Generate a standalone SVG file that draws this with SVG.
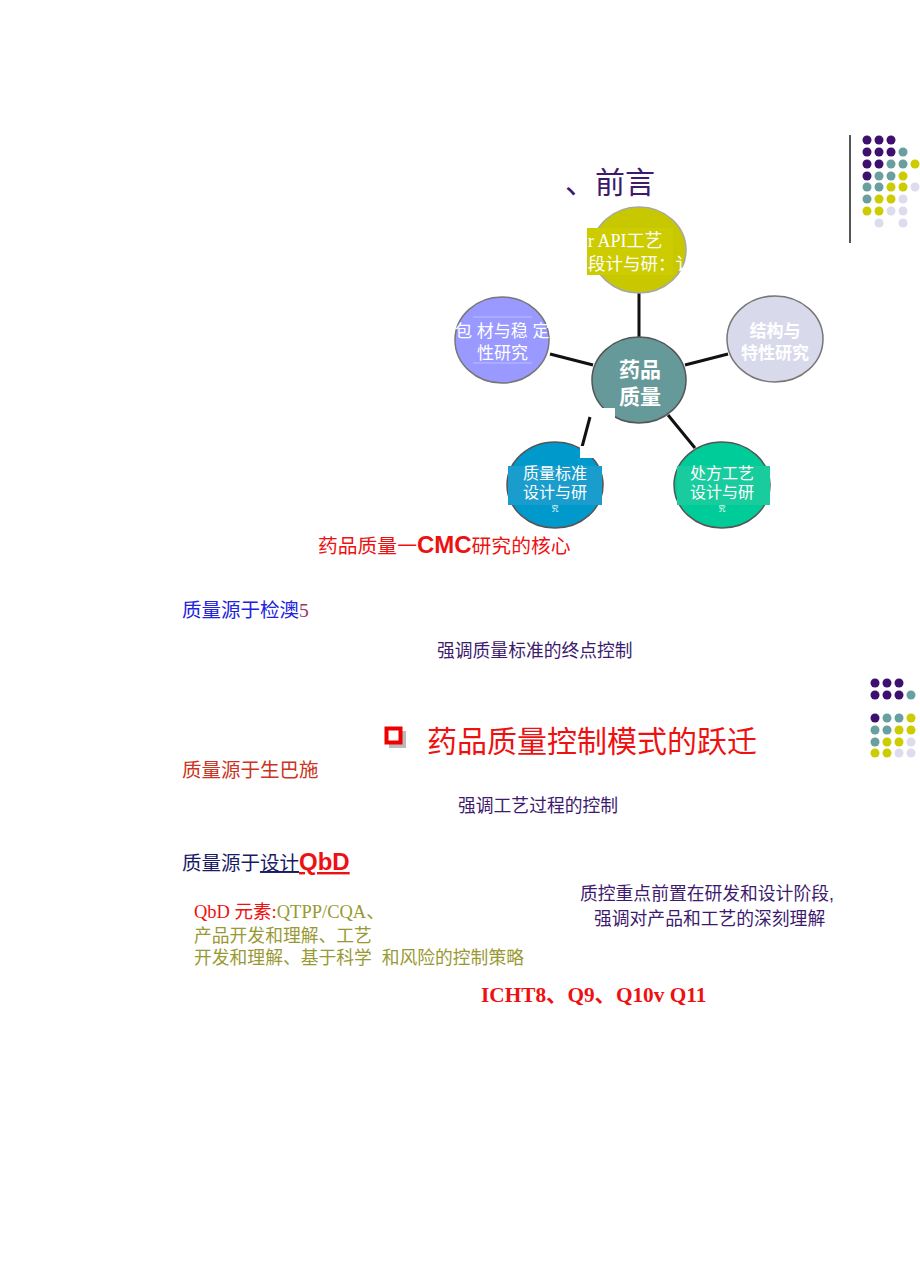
<svg xmlns="http://www.w3.org/2000/svg" width="920" height="1284" viewBox="0 0 920 1284">
<style>
.s{font-family:"Liberation Sans","Noto Sans CJK SC",sans-serif}
.r{font-family:"Liberation Serif","Noto Sans CJK SC",serif}
.w{fill:#ffffff}
.p{fill:#3d1a6e}
.dP{fill:#3d0f6e}.dT{fill:#6a9f9f}.dY{fill:#cccc00}.dL{fill:#dcdcee}
.ln{stroke:#111;stroke-width:3;fill:none}
</style>
<rect width="920" height="1284" fill="#ffffff"/>

<g id="deco-top">
<line x1="850" y1="135" x2="850" y2="243" stroke="#555" stroke-width="2"/>
<g>
<circle class="dP" cx="867" cy="140" r="4.5"/><circle class="dP" cx="879" cy="140" r="4.5"/><circle class="dP" cx="891" cy="140" r="4.5"/>
<circle class="dP" cx="867" cy="152" r="4.5"/><circle class="dP" cx="879" cy="152" r="4.5"/><circle class="dP" cx="891" cy="152" r="4.5"/><circle class="dT" cx="903" cy="152" r="4.5"/>
<circle class="dP" cx="867" cy="164" r="4.5"/><circle class="dP" cx="879" cy="164" r="4.5"/><circle class="dT" cx="891" cy="164" r="4.5"/><circle class="dT" cx="903" cy="164" r="4.5"/><circle class="dY" cx="915" cy="164" r="4.5"/>
<circle class="dP" cx="867" cy="176" r="4.5"/><circle class="dT" cx="879" cy="176" r="4.5"/><circle class="dT" cx="891" cy="176" r="4.5"/><circle class="dY" cx="903" cy="176" r="4.5"/>
<circle class="dT" cx="867" cy="187" r="4.5"/><circle class="dT" cx="879" cy="187" r="4.5"/><circle class="dY" cx="891" cy="187" r="4.5"/><circle class="dY" cx="903" cy="187" r="4.5"/><circle class="dL" cx="915" cy="187" r="4.5"/>
<circle class="dT" cx="867" cy="199" r="4.5"/><circle class="dY" cx="879" cy="199" r="4.5"/><circle class="dY" cx="891" cy="199" r="4.5"/><circle class="dL" cx="903" cy="199" r="4.5"/>
<circle class="dY" cx="867" cy="211" r="4.5"/><circle class="dY" cx="879" cy="211" r="4.5"/><circle class="dL" cx="891" cy="211" r="4.5"/><circle class="dL" cx="903" cy="211" r="4.5"/>
<circle class="dL" cx="879" cy="223" r="4.5"/><circle class="dL" cx="903" cy="223" r="4.5"/>
</g>
</g>

<g id="deco-bottom">
<circle class="dP" cx="875" cy="683" r="4.5"/><circle class="dP" cx="887" cy="683" r="4.5"/><circle class="dP" cx="899" cy="683" r="4.5"/>
<circle class="dP" cx="875" cy="695" r="4.5"/><circle class="dP" cx="887" cy="695" r="4.5"/><circle class="dP" cx="899" cy="695" r="4.5"/><circle class="dT" cx="911" cy="695" r="4.5"/>
<circle class="dP" cx="875" cy="718" r="4.5"/><circle class="dT" cx="887" cy="718" r="4.5"/><circle class="dT" cx="899" cy="718" r="4.5"/><circle class="dY" cx="911" cy="718" r="4.5"/>
<circle class="dT" cx="875" cy="730" r="4.5"/><circle class="dT" cx="887" cy="730" r="4.5"/><circle class="dY" cx="899" cy="730" r="4.5"/><circle class="dY" cx="911" cy="730" r="4.5"/>
<circle class="dT" cx="875" cy="742" r="4.5"/><circle class="dY" cx="887" cy="742" r="4.5"/><circle class="dY" cx="899" cy="742" r="4.5"/><circle class="dL" cx="911" cy="742" r="4.5"/>
<circle class="dY" cx="875" cy="753" r="4.5"/><circle class="dY" cx="887" cy="753" r="4.5"/><circle class="dL" cx="899" cy="753" r="4.5"/><circle class="dL" cx="911" cy="753" r="4.5"/>
</g>

<g id="title">
<text class="s p" x="565" y="193" font-size="30">、前言</text>
</g>

<g id="connectors">
<line class="ln" x1="639" y1="293" x2="639" y2="337"/>
<line class="ln" x1="550" y1="354" x2="593" y2="365"/>
<line class="ln" x1="685" y1="365" x2="728" y2="354"/>
<line class="ln" x1="590" y1="417" x2="582" y2="447"/>
<line class="ln" x1="668" y1="415" x2="695" y2="448"/>
</g>

<g id="node-api">
<ellipse cx="639" cy="250" rx="47" ry="43" fill="#c8c800" stroke="#a8a8a0" stroke-width="1.5"/>
<rect x="587" y="228" width="86" height="47" fill="#cccc00"/>
<text class="r w" x="588" y="247" font-size="18">r API工艺</text>
<text class="r w" x="588" y="270" font-size="17.5">段计与研：讠</text>
</g>

<g id="node-pack">
<ellipse cx="502" cy="340" rx="47" ry="43" fill="#9999ff" stroke="#777" stroke-width="1.5"/>
<line x1="473" y1="317" x2="532" y2="317" stroke="#c8c8ff" stroke-width="0.8"/>
<line x1="473" y1="363" x2="532" y2="363" stroke="#c8c8ff" stroke-width="0.8"/>
<text class="s w" x="455" y="337" font-size="17">包 材与稳 定</text>
<text class="s w" x="477" y="359" font-size="17">性研究</text>
</g>

<g id="node-struct">
<ellipse cx="775" cy="339" rx="48" ry="43" fill="#d9d9ec" stroke="#777" stroke-width="1.5"/>
<text class="s w" x="775" y="337" font-size="17" font-weight="bold" text-anchor="middle">结构与</text>
<text class="s w" x="775" y="359" font-size="17" font-weight="bold" text-anchor="middle">特性研究</text>
</g>

<g id="node-center">
<ellipse cx="639" cy="380" rx="47" ry="43" fill="#669999" stroke="#555" stroke-width="1.5"/>
<rect x="592" y="408" width="23" height="18" fill="#ffffff"/>
<text class="s w" x="640" y="377" font-size="21" font-weight="bold" text-anchor="middle">药品</text>
<text class="s w" x="640" y="404" font-size="21" font-weight="bold" text-anchor="middle">质量</text>
</g>

<g id="node-spec">
<ellipse cx="555" cy="485" rx="48" ry="43" fill="#0099cc" stroke="#555" stroke-width="1.5"/>
<rect x="580" y="446" width="25" height="12" fill="#ffffff"/>
<rect x="508" y="466" width="94" height="39" fill="#1a9dcc"/>
<text class="s w" x="555" y="479" font-size="16" text-anchor="middle">质量标准</text>
<text class="s w" x="555" y="498" font-size="16" text-anchor="middle">设计与研</text>
<text class="s w" x="555" y="511" font-size="7" text-anchor="middle">究</text>
</g>

<g id="node-form">
<ellipse cx="722" cy="485" rx="48" ry="43" fill="#00cc99" stroke="#555" stroke-width="1.5"/>
<rect x="677" y="466" width="93" height="39" fill="#19cc9d"/>
<text class="s w" x="722" y="479" font-size="16" text-anchor="middle">处方工艺</text>
<text class="s w" x="722" y="498" font-size="16" text-anchor="middle">设计与研</text>
<text class="s w" x="722" y="511" font-size="7" text-anchor="middle">究</text>
</g>

<g id="caption">
<text class="s" x="318" y="553" font-size="19.8" fill="#ee1111">药品质量一<tspan font-size="24" font-weight="bold">CMC</tspan>研究的核心</text>
</g>

<g id="text-section">
<text class="s" x="182" y="617" font-size="19.5" fill="#2222dd">质量源于检澳<tspan class="r" fill="#993366">5</tspan></text>
<text class="s p" x="437" y="657" font-size="17.8">强调质量标准的终点控制</text>

<rect x="389" y="731" width="17" height="17" fill="#bbbbbb"/>
<rect x="386.5" y="728.5" width="14" height="14" fill="#ffffff" stroke="#ee0000" stroke-width="4"/>
<text class="s" x="427" y="752" font-size="30" fill="#ee1111">药品质量控制模式的跃迁</text>

<text class="s" x="182" y="777" font-size="19.5" fill="#cc3322">质量源于生巴施</text>
<text class="s p" x="458" y="812" font-size="17.8">强调工艺过程的控制</text>

<text class="s" x="182" y="870" font-size="19.5" fill="#1a1a66">质量源于<tspan text-decoration="underline">设计</tspan><tspan font-size="24" font-weight="bold" fill="#ee1111" text-decoration="underline">QbD</tspan></text>

<text class="s p" x="580" y="900" font-size="17.8">质控重点前置在研发和设计阶段,</text>
<text class="s p" x="594" y="925" font-size="17.8">强调对产品和工艺的深刻理解</text>

<text class="r" x="194" y="918" font-size="18.5" fill="#ee1111">QbD 元素:<tspan fill="#999933">QTPP/CQA、</tspan></text>
<text class="s" x="194" y="942" font-size="17.8" fill="#999933">产品开发和理解、工艺</text>
<text class="s" x="194" y="964" font-size="17.8" fill="#999933" xml:space="preserve">开发和理解、基于科学  和风险的控制策略</text>

<text class="r" x="481" y="1002" font-size="21.3" font-weight="bold" fill="#ee1111">ICHT8、Q9、Q10v Q11</text>
</g>
</svg>
